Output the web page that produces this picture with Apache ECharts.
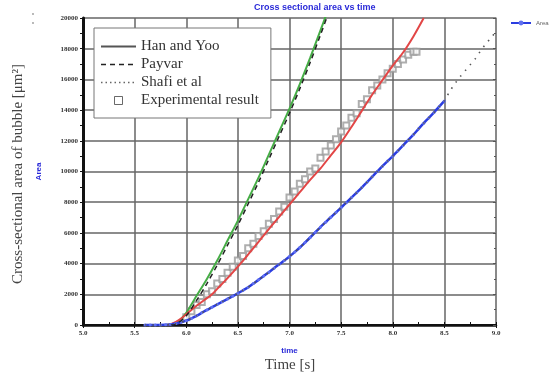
<!DOCTYPE html>
<html>
<head>
<meta charset="utf-8">
<script src="https://cdn.jsdelivr.net/npm/echarts@6/dist/echarts.min.js"></script>
<style>html,body{margin:0;padding:0;background:#fff}#c{width:549px;height:378px}</style>
</head>
<body>
<div id="c"></div>
<script>
// ---- data ----
const hanYoo = [[5.8,0],[5.85,30],[5.9,150],[5.95,400],[6.0,800],[6.1,1900],[6.2,3000],[6.3,4200],[6.4,5500],[6.5,6800],[6.6,8200],[6.7,9600],[6.8,11100],[6.9,12600],[7.0,14100],[7.1,15700],[7.2,17400],[7.3,19200],[7.35,20100]];
const payvar = [[5.85,0],[5.9,50],[6.0,600],[6.1,1600],[6.2,2700],[6.3,3900],[6.4,5200],[6.5,6500],[6.6,7900],[6.7,9300],[6.8,10800],[6.9,12300],[7.0,13800],[7.1,15400],[7.2,17100],[7.3,18900],[7.36,20000]];
const redCurve = [[5.8,0],[5.85,50],[5.9,200],[5.95,420],[6.0,700],[6.1,1250],[6.2,1750],[6.25,2000],[6.3,2350],[6.4,3050],[6.5,3800],[6.6,4600],[6.7,5420],[6.8,6250],[6.9,7050],[7.0,7850],[7.1,8650],[7.2,9450],[7.3,10200],[7.4,11050],[7.5,11900],[7.6,12900],[7.7,13950],[7.8,15000],[7.9,15950],[8.0,16900],[8.1,17750],[8.2,18800],[8.3,20000]];
const experimental = [[6.0,500],[6.05,900],[6.1,1300],[6.15,1500],[6.2,2000],[6.25,2200],[6.3,2700],[6.35,3000],[6.4,3400],[6.45,3800],[6.5,4200],[6.55,4500],[6.6,5000],[6.65,5300],[6.7,5800],[6.75,6100],[6.8,6600],[6.85,6900],[6.9,7400],[6.95,7700],[7.0,8300],[7.05,8700],[7.1,9200],[7.15,9500],[7.2,10000],[7.25,10200],[7.3,10900],[7.35,11300],[7.4,11700],[7.45,12100],[7.5,12600],[7.55,13000],[7.6,13500],[7.65,13800],[7.7,14400],[7.75,14700],[7.8,15300],[7.85,15600],[7.9,16000],[7.95,16400],[8.0,16700],[8.05,17000],[8.1,17300],[8.15,17600],[8.2,17800],[8.23,17800]];
const areaCurve = [[5.6,0],[5.65,0],[5.7,0],[5.75,0],[5.8,10],[5.85,40],[5.9,100],[5.95,180],[6.0,280],[6.05,430],[6.1,600],[6.15,790],[6.2,980],[6.25,1160],[6.3,1340],[6.35,1520],[6.4,1700],[6.45,1880],[6.5,2060],[6.55,2260],[6.6,2460],[6.65,2700],[6.7,2940],[6.75,3190],[6.8,3440],[6.85,3700],[6.9,3950],[6.95,4200],[7.0,4460],[7.05,4750],[7.1,5050],[7.15,5370],[7.2,5700],[7.25,6040],[7.3,6380],[7.35,6700],[7.4,7020],[7.45,7330],[7.5,7650],[7.55,7970],[7.6,8300],[7.65,8620],[7.7,8950],[7.75,9300],[7.8,9650],[7.85,10000],[7.9,10350],[7.95,10680],[8.0,11000],[8.05,11350],[8.1,11700],[8.15,12050],[8.2,12400],[8.25,12780],[8.3,13150],[8.35,13500],[8.4,13850],[8.45,14230],[8.5,14600]];
const shafiExt = [[8.5,14600],[8.55,15200],[8.6,15700],[8.65,16150],[8.7,16550],[8.75,16950],[8.8,17350],[8.85,17850],[8.9,18300],[8.95,18700],[9.0,19100]];
const xTicks = ['5.0','5.5','6.0','6.5','7.0','7.5','8.0','8.5','9.0'];
const yMax = 20000, yStep = 2000;

const chart = echarts.init(document.getElementById('c'), null, {renderer:'canvas'});
const tickFont = {fontSize:7, color:'#333', fontFamily:'Liberation Serif', fontWeight:'bold'};
const shafiAll = areaCurve.concat(shafiExt.slice(1));
const noSym = {color:'transparent', borderWidth:0, opacity:0};
chart.setOption({
  animation:false,
  backgroundColor:'#fff',
  title:{text:'Cross sectional area vs time', left:254, top:3, padding:0,
    textStyle:{fontSize:9, fontWeight:'bold', color:'#2a2ad8', fontFamily:'Liberation Sans'}},
  legend:[{
    orient:'vertical', left:94, top:28, itemWidth:35, itemHeight:8, itemGap:3,
    symbolKeepAspect:true,
    padding:[11,12,10,6], borderColor:'#777', borderWidth:1, backgroundColor:'#fff',
    textStyle:{fontSize:15, color:'#333', fontFamily:'Liberation Serif'},
    data:[
      {name:'Han and Yoo', itemStyle:noSym, lineStyle:{color:'#555', width:2, type:'solid'}},
      {name:'Payvar', itemStyle:noSym, lineStyle:{color:'#222', width:1.5, type:[5,4]}},
      {name:'Shafi et al', itemStyle:noSym, lineStyle:{color:'#666', width:1.5, type:[1.5,3]}},
      {name:'Experimental result', icon:'path://M0,0L10,0L10,10L0,10Z',
        itemStyle:{color:'#fff', borderColor:'#444', borderWidth:1}}
    ]
  },{
    left:510, top:20, itemWidth:20, itemHeight:6, padding:0,
    textStyle:{fontSize:6, color:'#666', fontFamily:'Liberation Sans'},
    data:['Area']
  }],
  grid:{left:83, right:53, top:18, bottom:53},
  xAxis:[{
    type:'value', min:5, max:9, interval:0.5, position:'bottom',
    name:'time', nameLocation:'middle', nameGap:22,
    nameTextStyle:{fontSize:8, fontWeight:'bold', color:'#2a2ad8', fontFamily:'Liberation Sans'},
    axisLabel:Object.assign({margin:5, formatter:(v)=>xTicks[Math.round((v-5)/0.5)]}, tickFont),
    axisLine:{lineStyle:{color:'#111', width:2}},
    axisTick:{inside:true, length:3, lineStyle:{color:'#111'}},
    minorTick:{show:true, splitNumber:2, length:3, lineStyle:{color:'#111'}},
    splitLine:{show:true, lineStyle:{color:'#666', width:1.5}}
  },{
    type:'value', min:5, max:9, interval:0.5, position:'top',
    axisLabel:{show:false},
    axisLine:{show:true, lineStyle:{color:'#111', width:2.5, type:[3,1]}},
    axisTick:{inside:true, length:3, lineStyle:{color:'#111'}},
    splitLine:{show:false}
  }],
  yAxis:[{
    type:'value', min:0, max:yMax, interval:yStep, position:'left',
    name:'Area', nameLocation:'middle', nameGap:40,
    nameTextStyle:{fontSize:8, fontWeight:'bold', color:'#2a2ad8', fontFamily:'Liberation Sans'},
    axisLabel:Object.assign({margin:5, formatter:(v)=>String(v)}, tickFont),
    axisLine:{show:true, lineStyle:{color:'#111', width:3}},
    axisTick:{show:true, inside:false, length:3, lineStyle:{color:'#111'}},
    minorTick:{show:true, splitNumber:2, length:3, lineStyle:{color:'#111'}},
    splitLine:{show:true, lineStyle:{color:'#666', width:1.5}}
  },{
    type:'value', min:0, max:yMax, interval:yStep, position:'right',
    axisLabel:{show:false},
    axisLine:{show:true, lineStyle:{color:'#888', width:1.5}},
    axisTick:{show:true, inside:true, length:3, lineStyle:{color:'#555'}},
    minorTick:{show:true, splitNumber:2, length:2, lineStyle:{color:'#555'}},
    splitLine:{show:false}
  }],
  series:[
    {name:'Han and Yoo', type:'line', data:hanYoo, symbol:'none', smooth:0.3,
      lineStyle:{color:'#46ad46', width:2}, z:3},
    {name:'Payvar', type:'line', data:payvar, symbol:'none', smooth:0.3,
      lineStyle:{color:'#222', width:1.5, type:[5,4]}, z:4},
    {name:'Red', type:'line', data:redCurve, symbol:'none', smooth:0.3,
      lineStyle:{color:'#e24646', width:2}, z:3},
    {name:'Experimental result', type:'scatter', data:experimental, symbol:'emptyRect', symbolSize:6,
      itemStyle:{color:'#9a9a9a', borderWidth:0.8}, z:2},
    {name:'Area', type:'line', data:areaCurve, symbol:'circle', symbolSize:3, showSymbol:true, smooth:0.3,
      lineStyle:{color:'#2b3de0', width:2.5}, itemStyle:{color:'#6070f0'}, z:3},
    {name:'Shafi et al', type:'line', data:shafiAll, symbol:'none', smooth:0.3,
      lineStyle:{color:'#555', width:1.6, type:[1.5,6]}, z:5}
  ],
  graphic:[
    {type:'text', x:18, y:174, rotation:Math.PI/2,
      style:{text:'Cross-sectional area of bubble [μm²]', font:'15px "Liberation Serif"', fill:'#444', textAlign:'center', textVerticalAlign:'middle'}},
    {type:'text', x:290, y:365,
      style:{text:'Time [s]', font:'15px "Liberation Serif"', fill:'#444', textAlign:'center', textVerticalAlign:'middle'}},
    {type:'circle', shape:{cx:33, cy:14, r:0.9}, style:{fill:'#999'}},
    {type:'circle', shape:{cx:33, cy:23, r:0.9}, style:{fill:'#999'}}
  ]
});
</script>
</body>
</html>
